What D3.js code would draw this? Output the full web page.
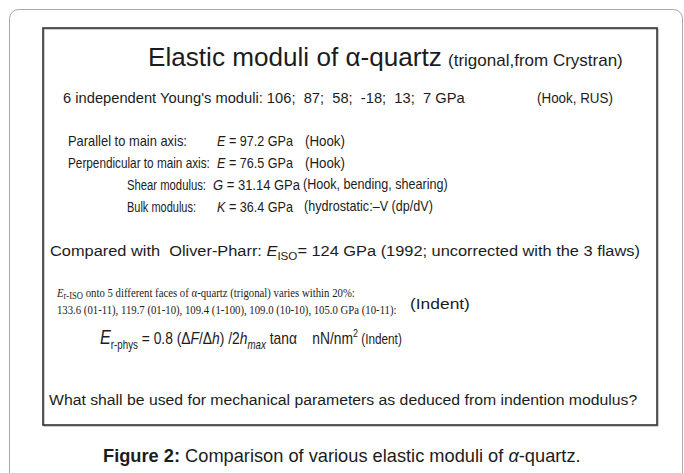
<!DOCTYPE html>
<html><head><meta charset="utf-8">
<script src="https://cdn.jsdelivr.net/npm/d3@7"></script>
<style>
body{margin:0;background:#fff}
svg{display:block}
text{font-family:"Liberation Sans",Arial,sans-serif;fill:#1c1c1c;white-space:pre}
.serif{font-family:"Liberation Serif","Times New Roman",serif}
</style>
</head><body>
<svg id="c" width="684" height="473"></svg>
<script>
// ---- data ----
const youngModuli = [106, 87, 58, -18, 13, 7];
const moduliLabels = ["Parallel to main axis:", "Perpendicular to main axis:", "Shear modulus:", "Bulk modulus:"];
const moduliSymbols = ["E", "E", "G", "K"];
const moduliValues = [97.2, 76.5, 31.14, 36.4];
const moduliSources = ["(Hook)", "(Hook)", "(Hook, bending, shearing)", "(hydrostatic:\u2013V (dp/dV)"];
const oliverPharrValue = 124;
const faceValues = [133.6, 119.7, 109.4, 109.0, 105.0];
const faceLabels = ["01-11", "01-10", "1-100", "10-10", "10-11"];

const svg = d3.select("#c");

// outer frame
svg.append("rect").attr("x", 9.5).attr("y", 9.5).attr("width", 673).attr("height", 520)
  .attr("rx", 9).attr("fill", "none").attr("stroke", "#a8a8a8").attr("stroke-width", 1);
// inner box
svg.append("rect").attr("x", 44).attr("y", 29).attr("width", 614).attr("height", 397)
  .attr("fill", "none").attr("stroke", "#9a9a9a").attr("stroke-width", 1);
svg.append("rect").attr("x", 43).attr("y", 28).attr("width", 614).attr("height", 397)
  .attr("fill", "none").attr("stroke", "#333").attr("stroke-width", 1.6);

function rich(x, y, parts, opts = {}) {
  const t = svg.append("text").attr("x", 0).attr("y", 0).attr("font-size", opts.size || 14);
  if (opts.cls) t.attr("class", opts.cls);
  let shift = 0;
  parts.forEach(p => {
    const s = t.append("tspan").text(p.t);
    if (p.i) s.attr("font-style", "italic");
    if (p.b) s.attr("font-weight", "bold");
    if (p.s) s.attr("font-size", p.s);
    const target = p.dy || 0;
    if (target !== shift) { s.attr("dy", target - shift); shift = target; }
  });
  let sx = 1;
  if (opts.len) {
    const w = t.node().getComputedTextLength();
    if (w > 0) sx = opts.len / w;
  }
  t.attr("transform", `translate(${x},${y}) scale(${sx},1)`);
  return t;
}

// title
rich(148, 66, [{t: "Elastic moduli of "}, {t: "\u03b1"}, {t: "-quartz"}], {size: 25, len: 294});
rich(448, 66, [{t: "(trigonal,from Crystran)"}], {size: 16, len: 175});

// Young's moduli line
rich(63, 103, [{t: "6 independent Young's moduli: " + youngModuli.join(";  ") + " GPa"}], {size: 14.5, len: 402});
rich(537, 103, [{t: "(Hook, RUS)"}], {size: 14.5, len: 76});

// moduli rows
const yRow = d3.scalePoint().domain(moduliLabels).range([146, 212]);
const labelX = [68, 68, 127, 127];
const labelLen = [119, 142, 79, 69];
const valueX = [217, 217, 213, 217];
const valueLen = [76, 76, 87, 76];
const srcX = [305, 305, 303, 304];
const srcLen = [40, 40, 145, 129];
moduliLabels.forEach((lab, i) => {
  const y = yRow(lab);
  rich(labelX[i], y, [{t: lab}], {size: 14, len: labelLen[i]});
  rich(valueX[i], y, [{t: moduliSymbols[i], i: true}, {t: " = " + moduliValues[i] + " GPa"}], {size: 14, len: valueLen[i]});
  rich(srcX[i], y - (i >= 2 ? 1 : 0), [{t: moduliSources[i]}], {size: 14, len: srcLen[i]});
});

// Oliver-Pharr
rich(50, 256, [{t: "Compared with  Oliver-Pharr: "}, {t: "E", i: true}, {t: "ISO", s: 11, dy: 4}, {t: "= " + oliverPharrValue + " GPa (1992; uncorrected with the 3 flaws)", dy: 0}], {size: 15.5, len: 590});

// faces (serif)
rich(57, 297, [{t: "E", i: true}, {t: "r-ISO", s: 10, dy: 2}, {t: " onto 5 different faces of \u03b1-quartz (trigonal) varies within 20%:", dy: 0}], {size: 12.5, cls: "serif", len: 298});
rich(57, 314, [{t: faceValues.map((v, i) => v.toFixed(1) + (i === faceValues.length - 1 ? " GPa" : "") + " (" + faceLabels[i] + ")").join(", ") + ":"}], {size: 12.5, cls: "serif", len: 340});
rich(410, 309, [{t: "(Indent)"}], {size: 14.5, len: 60});

// formula
rich(100, 344, [
  {t: "E", i: true, s: 20}, {t: "r-phys", s: 12, dy: 5},
  {t: " = 0.8 (\u0394", dy: 0}, {t: "F", i: true}, {t: "/\u0394"}, {t: "h", i: true}, {t: ") /2"},
  {t: "h", i: true}, {t: "max", i: true, s: 12, dy: 5}, {t: " tan\u03b1    nN/nm", dy: 0},
  {t: "2", s: 11, dy: -7}, {t: " (Indent)", s: 14.5, dy: 0}
], {size: 17, len: 302});

// question
rich(49, 405, [{t: "What shall be used for mechanical parameters as deduced from indention modulus?"}], {size: 15.5, len: 589});

// caption
rich(103, 462, [{t: "Figure 2:", b: true}, {t: " Comparison of various elastic moduli of "}, {t: "\u03b1", i: true}, {t: "-quartz."}], {size: 18, len: 478});
</script>
</body></html>
